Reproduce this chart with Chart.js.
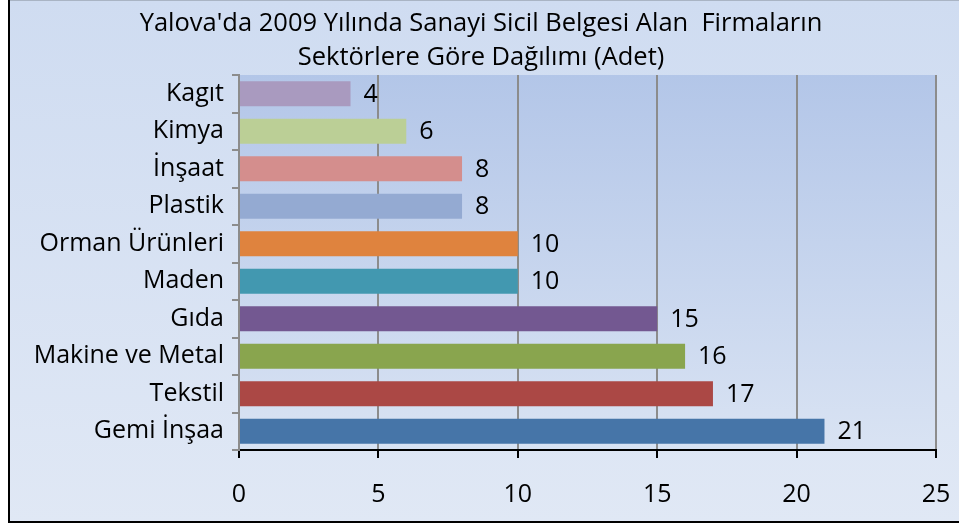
<!DOCTYPE html>
<html>
<head>
<meta charset="utf-8">
<script src="https://cdn.jsdelivr.net/npm/chart.js@4"></script>
<style>
  html, body { margin: 0; padding: 0; background: #fff; }
  canvas { display: block; }
</style>
</head>
<body>
<canvas id="chart" width="959" height="524"></canvas>
<script>
// Yalova 2009 - sanayi sicil belgesi alan firmalar, sektör dağılımı

const titleLines = ["Yalova'da 2009 Yılında Sanayi Sicil Belgesi Alan  Firmaların", 'Sektörlere Göre Dağılımı (Adet)']

const sectors = ['Kagıt', 'Kimya', 'İnşaat', 'Plastik', 'Orman Ürünleri', 'Maden', 'Gıda', 'Makine ve Metal', 'Tekstil', 'Gemi İnşaa']
const counts = [4, 6, 8, 8, 10, 10, 15, 16, 17, 21]
const barColors = ['#a99abf', '#bbcf96', '#d48e8d', '#94aad2', '#df833e', '#4298b0', '#735891', '#89a54e', '#ab4845', '#4675a8']

const xTicks = [0, 5, 10, 15, 20, 25]

const FONT = '"Open Sans", Lato, sans-serif'

// backgrounds + frame
const backdrop = {
  id: 'backdrop',
  beforeDraw(chart) {
    const { ctx, width, height, chartArea: a } = chart
    ctx.save()
    ctx.fillStyle = '#ffffff'
    ctx.fillRect(0, 0, width, height)

    let g = ctx.createLinearGradient(0, 0, 0, height)
    g.addColorStop(0, '#cfdcf1')
    g.addColorStop(1, '#e0e8f5')
    ctx.fillStyle = g
    ctx.fillRect(9, 1, width - 9, height - 3)

    g = ctx.createLinearGradient(0, a.top, 0, a.bottom)
    g.addColorStop(0, '#b3c6e8')
    g.addColorStop(1, '#d9e3f3')
    ctx.fillStyle = g
    ctx.fillRect(a.left, a.top, a.right - a.left, a.bottom - a.top)

    ctx.strokeStyle = '#a9b4c4'
    ctx.lineWidth = 1
    ctx.beginPath()
    ctx.moveTo(9, 0.5)
    ctx.lineTo(width, 0.5)
    ctx.stroke()

    ctx.strokeStyle = '#000'
    ctx.lineWidth = 2
    ctx.beginPath()
    ctx.moveTo(9, 0)
    ctx.lineTo(9, height - 2)
    ctx.lineTo(width, height - 2)
    ctx.stroke()
    ctx.restore()
  }
}

// value labels at bar ends
const valueLabels = {
  id: 'valueLabels',
  afterDatasetsDraw(chart) {
    const { ctx } = chart
    const meta = chart.getDatasetMeta(0)
    ctx.save()
    ctx.font = '25px ' + FONT
    ctx.fillStyle = '#000'
    ctx.textAlign = 'left'
    ctx.textBaseline = 'middle'
    meta.data.forEach((bar, i) => {
      ctx.fillText(String(counts[i]), bar.x + 13, bar.y + 1)
    })
    ctx.restore()
  }
}

new Chart(document.getElementById('chart'), {
  type: 'bar',
  data: {
    labels: sectors,
    datasets: [{
      data: counts,
      backgroundColor: barColors,
      borderWidth: 0,
      categoryPercentage: 1,
      barPercentage: 0.67
    }]
  },
  options: {
    indexAxis: 'y',
    responsive: false,
    animation: false,
    layout: { padding: { left: 26, right: 23, top: 0, bottom: 0 } },
    plugins: {
      legend: { display: false },
      tooltip: { enabled: false },
      title: {
        display: true,
        text: titleLines,
        color: '#000',
        font: { family: FONT, size: 25.5, weight: 'normal', lineHeight: 1.353 },
        padding: { top: 6, bottom: 0 }
      }
    },
    scales: {
      x: {
        min: 0,
        max: 25,
        afterBuildTicks: (s) => { s.ticks = xTicks.map(v => ({ value: v })) },
        afterFit: (s) => { s.height = 74; s.paddingLeft = 0; s.paddingRight = 0 },
        ticks: { color: '#000', padding: 22, font: { family: FONT, size: 25 } },
        grid: { color: '#8c8c8c', lineWidth: 2, tickColor: '#000', tickLength: 8 },
        border: { color: '#000', width: 2 }
      },
      y: {
        afterFit: (s) => { s.width = 213 },
        ticks: { color: '#000', padding: 8, font: { family: FONT, size: 25 } },
        grid: { drawOnChartArea: false, color: '#8c8c8c', lineWidth: 2, tickLength: 7 },
        border: { color: '#8c8c8c', width: 2 }
      }
    }
  },
  plugins: [backdrop, valueLabels]
})
</script>
</body>
</html>
